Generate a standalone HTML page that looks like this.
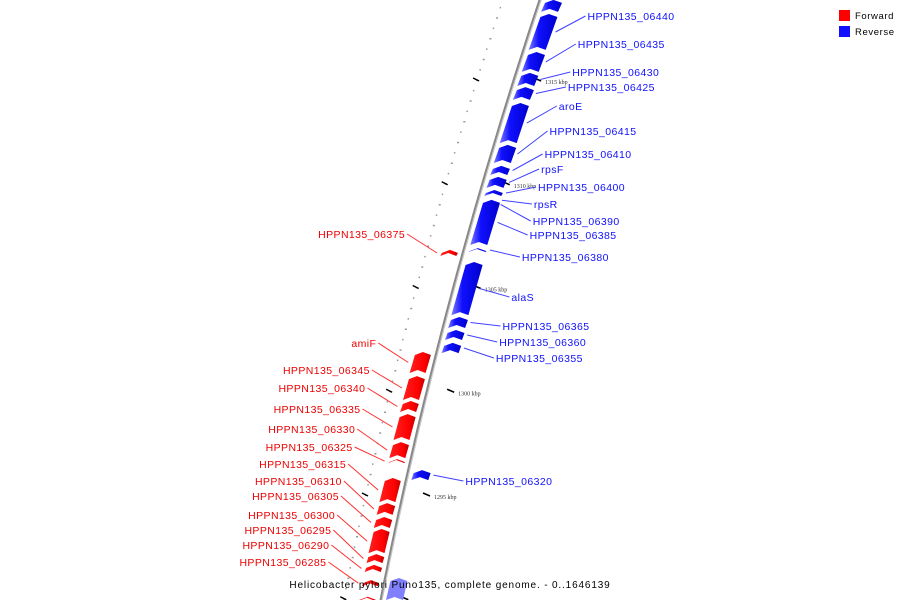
<!DOCTYPE html>
<html><head><meta charset="utf-8"><style>
html,body{margin:0;padding:0;background:#fff;}
svg{display:block;font-family:"Liberation Sans","DejaVu Sans",sans-serif;}
</style></head><body>
<svg id="map" width="900" height="600" viewBox="0 0 900 600">
<defs>
<linearGradient id="gb" x1="0" x2="1" y1="0" y2="0"><stop offset="0" stop-color="#7a7aff"/><stop offset="0.35" stop-color="#1010ff"/><stop offset="1" stop-color="#0000cc"/></linearGradient>
<linearGradient id="gr" x1="0" x2="1" y1="0" y2="0"><stop offset="0" stop-color="#ff2020"/><stop offset="0.7" stop-color="#ff0000"/><stop offset="1" stop-color="#c00000"/></linearGradient>
</defs>
<g id="ticks"></g>
<path id="backbone" fill="none" stroke="#888" stroke-width="3"/>
<path id="backbone2" fill="none" stroke="#ccc" stroke-width="1"/>
<g id="genes"></g>
<g id="labels"></g>
<g>
<rect x="839" y="10" width="11" height="11" fill="#ff0000"/>
<text x="855" y="19" font-size="9.5" letter-spacing="0.6" fill="#000">Forward</text>
<rect x="839" y="26" width="11" height="11" fill="#1010ff"/>
<text x="855" y="35" font-size="9.5" letter-spacing="0.6" fill="#000">Reverse</text>
</g>
<text x="450" y="588" text-anchor="middle" font-size="10" letter-spacing="0.85" fill="#000">Helicobacter pylori Puno135, complete genome. - 0..1646139</text>
</svg>
<script>
// genes: start/end in kbp, strand (+1 forward, -1 reverse), label
const geneStarts = [1318.86,1318.18,1316.35,1315.34,1314.66,1313.89,1311.87,1310.86,1310.33,1309.70,1309.22,1306.90,1306.23,1303.58,1302.95,1302.33,1296.20,1291.0,
  1306.81,1301.89,1300.73,1299.53,1298.90,1297.55,1296.73,1295.82,1294.61,1293.94,1293.36,1292.15,1291.63,1290.9,1290.1];
const geneEnds = [1318.28,1316.45,1315.39,1314.71,1314.04,1311.96,1311.0,1310.42,1309.80,1309.41,1307.05,1306.71,1303.67,1303.05,1302.47,1301.84,1295.72,1289.94,
  1306.52,1300.88,1299.58,1299.0,1297.65,1296.78,1296.54,1294.66,1294.04,1293.41,1292.20,1291.72,1291.29,1290.6,1289.9];
const geneStrands = [-1,-1,-1,-1,-1,-1,-1,-1,-1,-1,-1,-1,-1,-1,-1,-1,-1,-1, 1,1,1,1,1,1,1,1,1,1,1,1,1,1,1];
const labelTexts = ["","HPPN135_06440","HPPN135_06435","HPPN135_06430","HPPN135_06425","aroE","HPPN135_06415","HPPN135_06410","rpsF","HPPN135_06400","HPPN135_06385","HPPN135_06380","alaS","HPPN135_06365","HPPN135_06360","HPPN135_06355","HPPN135_06320","",
  "HPPN135_06375","amiF","HPPN135_06345","HPPN135_06340","HPPN135_06335","HPPN135_06330","HPPN135_06325","HPPN135_06315","HPPN135_06310","HPPN135_06305","HPPN135_06300","HPPN135_06295","HPPN135_06290","HPPN135_06285",""];
const labelY = [0,20,48,76,91,110,135,158,173,191,239,261,301,330,346,362,485,0,
  238,347,374,392,413,433,451,468,485,500,519,534,549,566,0];
// extra labels for tiny genes (no block drawn distinctly)
const extraLabels = ["rpsR","HPPN135_06390"];
const extraLabelY = [208,225];
const extraKbp = [1309.2,1309.0];
const tickKbps = [1315,1310,1305,1300,1295];

const svg = document.getElementById('map');
const NS = 'http://www.w3.org/2000/svg';
function yOf(kbp){ return 80 + (1315 - kbp) * 20.75; }
function bx(y){ return 540 - 0.3325*y + 1.126e-4*y*y; }
function mk(tag, attrs){ const e=document.createElementNS(NS,tag); for(const k in attrs) e.setAttribute(k,attrs[k]); return e; }

// backbone
let d='';
for(let y=-10;y<=610;y+=10){ d += (y===-10?'M':'L') + bx(y).toFixed(1)+','+y+' '; }
document.getElementById('backbone').setAttribute('d', d);
document.getElementById('backbone2').setAttribute('d', d.replace(/(-?\d+\.?\d*),/g,(m,p)=> (parseFloat(p)+1).toFixed(1)+','));

// ticks
const tg = document.getElementById('ticks');
for(let k=1319;k>=1289;k-=0.5){
  const y=yOf(k); if(y<0||y>600) continue;
  const isMajor = Math.abs(k - Math.round(k/5)*5) < 0.01;
  const isOne = Math.abs(k-Math.round(k))<0.01;
  const lx = bx(y)-38, rx = bx(y)+30;
  const dot = mk('rect',{x:(lx).toFixed(1),y:(y-0.5).toFixed(1),width:isOne?2:1.5,height:1.5,fill:'#999'});
  
  
  tg.appendChild(dot);
  if(isMajor){
    const t = mk('line',{x1:bx(y)+20,y1:y-2,x2:bx(y)+27,y2:y+1,stroke:'#000','stroke-width':1.5});
    
    
    tg.appendChild(t);
    const tl = mk('line',{x1:lx-3,y1:y-2,x2:lx+3,y2:y+1,stroke:'#000','stroke-width':1.5});
    
    
    tg.appendChild(tl);
  }
}
tickKbps.forEach(k=>{
  const y=yOf(k);
  const t=mk('text',{x:(bx(y)+31).toFixed(1),y:(y+4).toFixed(1),'font-size':6,fill:'#333','font-family':'Liberation Serif, serif'});
  t.textContent = k + ' kbp';
  
  
  tg.appendChild(t);
});

// genes
const gg = document.getElementById('genes');
const lg = document.getElementById('labels');
geneStarts.forEach((s,i)=>{
  const y1=yOf(s), y2=yOf(geneEnds[i]);
  const st=geneStrands[i];
  const inner = st<0 ? 5 : -6, outer = st<0 ? 22 : -22;
  const tip = 3;
  // reverse points up (toward y1), forward points up too with chevron
  const pts = [
    [bx(y1)+inner, y1+tip],[bx(y1)+(inner+outer)/2, y1],[bx(y1)+outer, y1+tip],
    [bx(y2)+outer, y2],[bx(y2)+(inner+outer)/2, y2-tip],[bx(y2)+inner, y2]
  ].map(p=>p[0].toFixed(1)+','+p[1].toFixed(1)).join(' ');
  const poly = mk('polygon',{points:pts, fill: st<0 ? (i===17?'#8080ff':'url(#gb)') : 'url(#gr)'});
  
  
  gg.appendChild(poly);
  const txt = labelTexts[i];
  if(!txt) return;
  const ym=(y1+y2)/2, ly=labelY[i];
  if(st<0){
    const x0=bx(ym)+26, tx=x0+32;
    const ln=mk('line',{x1:x0.toFixed(1),y1:ym.toFixed(1),x2:(tx-2).toFixed(1),y2:(ly-4),stroke:'#4040ff','stroke-width':1});
    
    
    lg.appendChild(ln);
    const t=mk('text',{x:tx.toFixed(1),y:ly,'font-size':10.5,fill:'#1010ff','letter-spacing':0.4});
    t.textContent=txt;
    
    
    lg.appendChild(t);
  } else {
    const x0=bx(ym)-26, tx=x0-32;
    const ln=mk('line',{x1:x0.toFixed(1),y1:ym.toFixed(1),x2:(tx+2).toFixed(1),y2:(ly-4),stroke:'#ff3030','stroke-width':1});
    
    
    lg.appendChild(ln);
    const t=mk('text',{x:tx.toFixed(1),y:ly,'font-size':10.5,fill:'#ee0000','text-anchor':'end','letter-spacing':0.4});
    t.textContent=txt;
    
    
    lg.appendChild(t);
  }
});
extraLabels.forEach((txt,i)=>{
  const ym=yOf(extraKbp[i]), ly=extraLabelY[i];
  const x0=bx(ym)+24, tx=x0+32;
  const ln=mk('line',{x1:x0.toFixed(1),y1:ym.toFixed(1),x2:(tx-2).toFixed(1),y2:(ly-4),stroke:'#4040ff','stroke-width':1});
  
  
  lg.appendChild(ln);
  const t=mk('text',{x:tx.toFixed(1),y:ly,'font-size':10.5,fill:'#1010ff','letter-spacing':0.4});
  t.textContent=txt;
  
  
  lg.appendChild(t);
});
</script>
</body></html>
